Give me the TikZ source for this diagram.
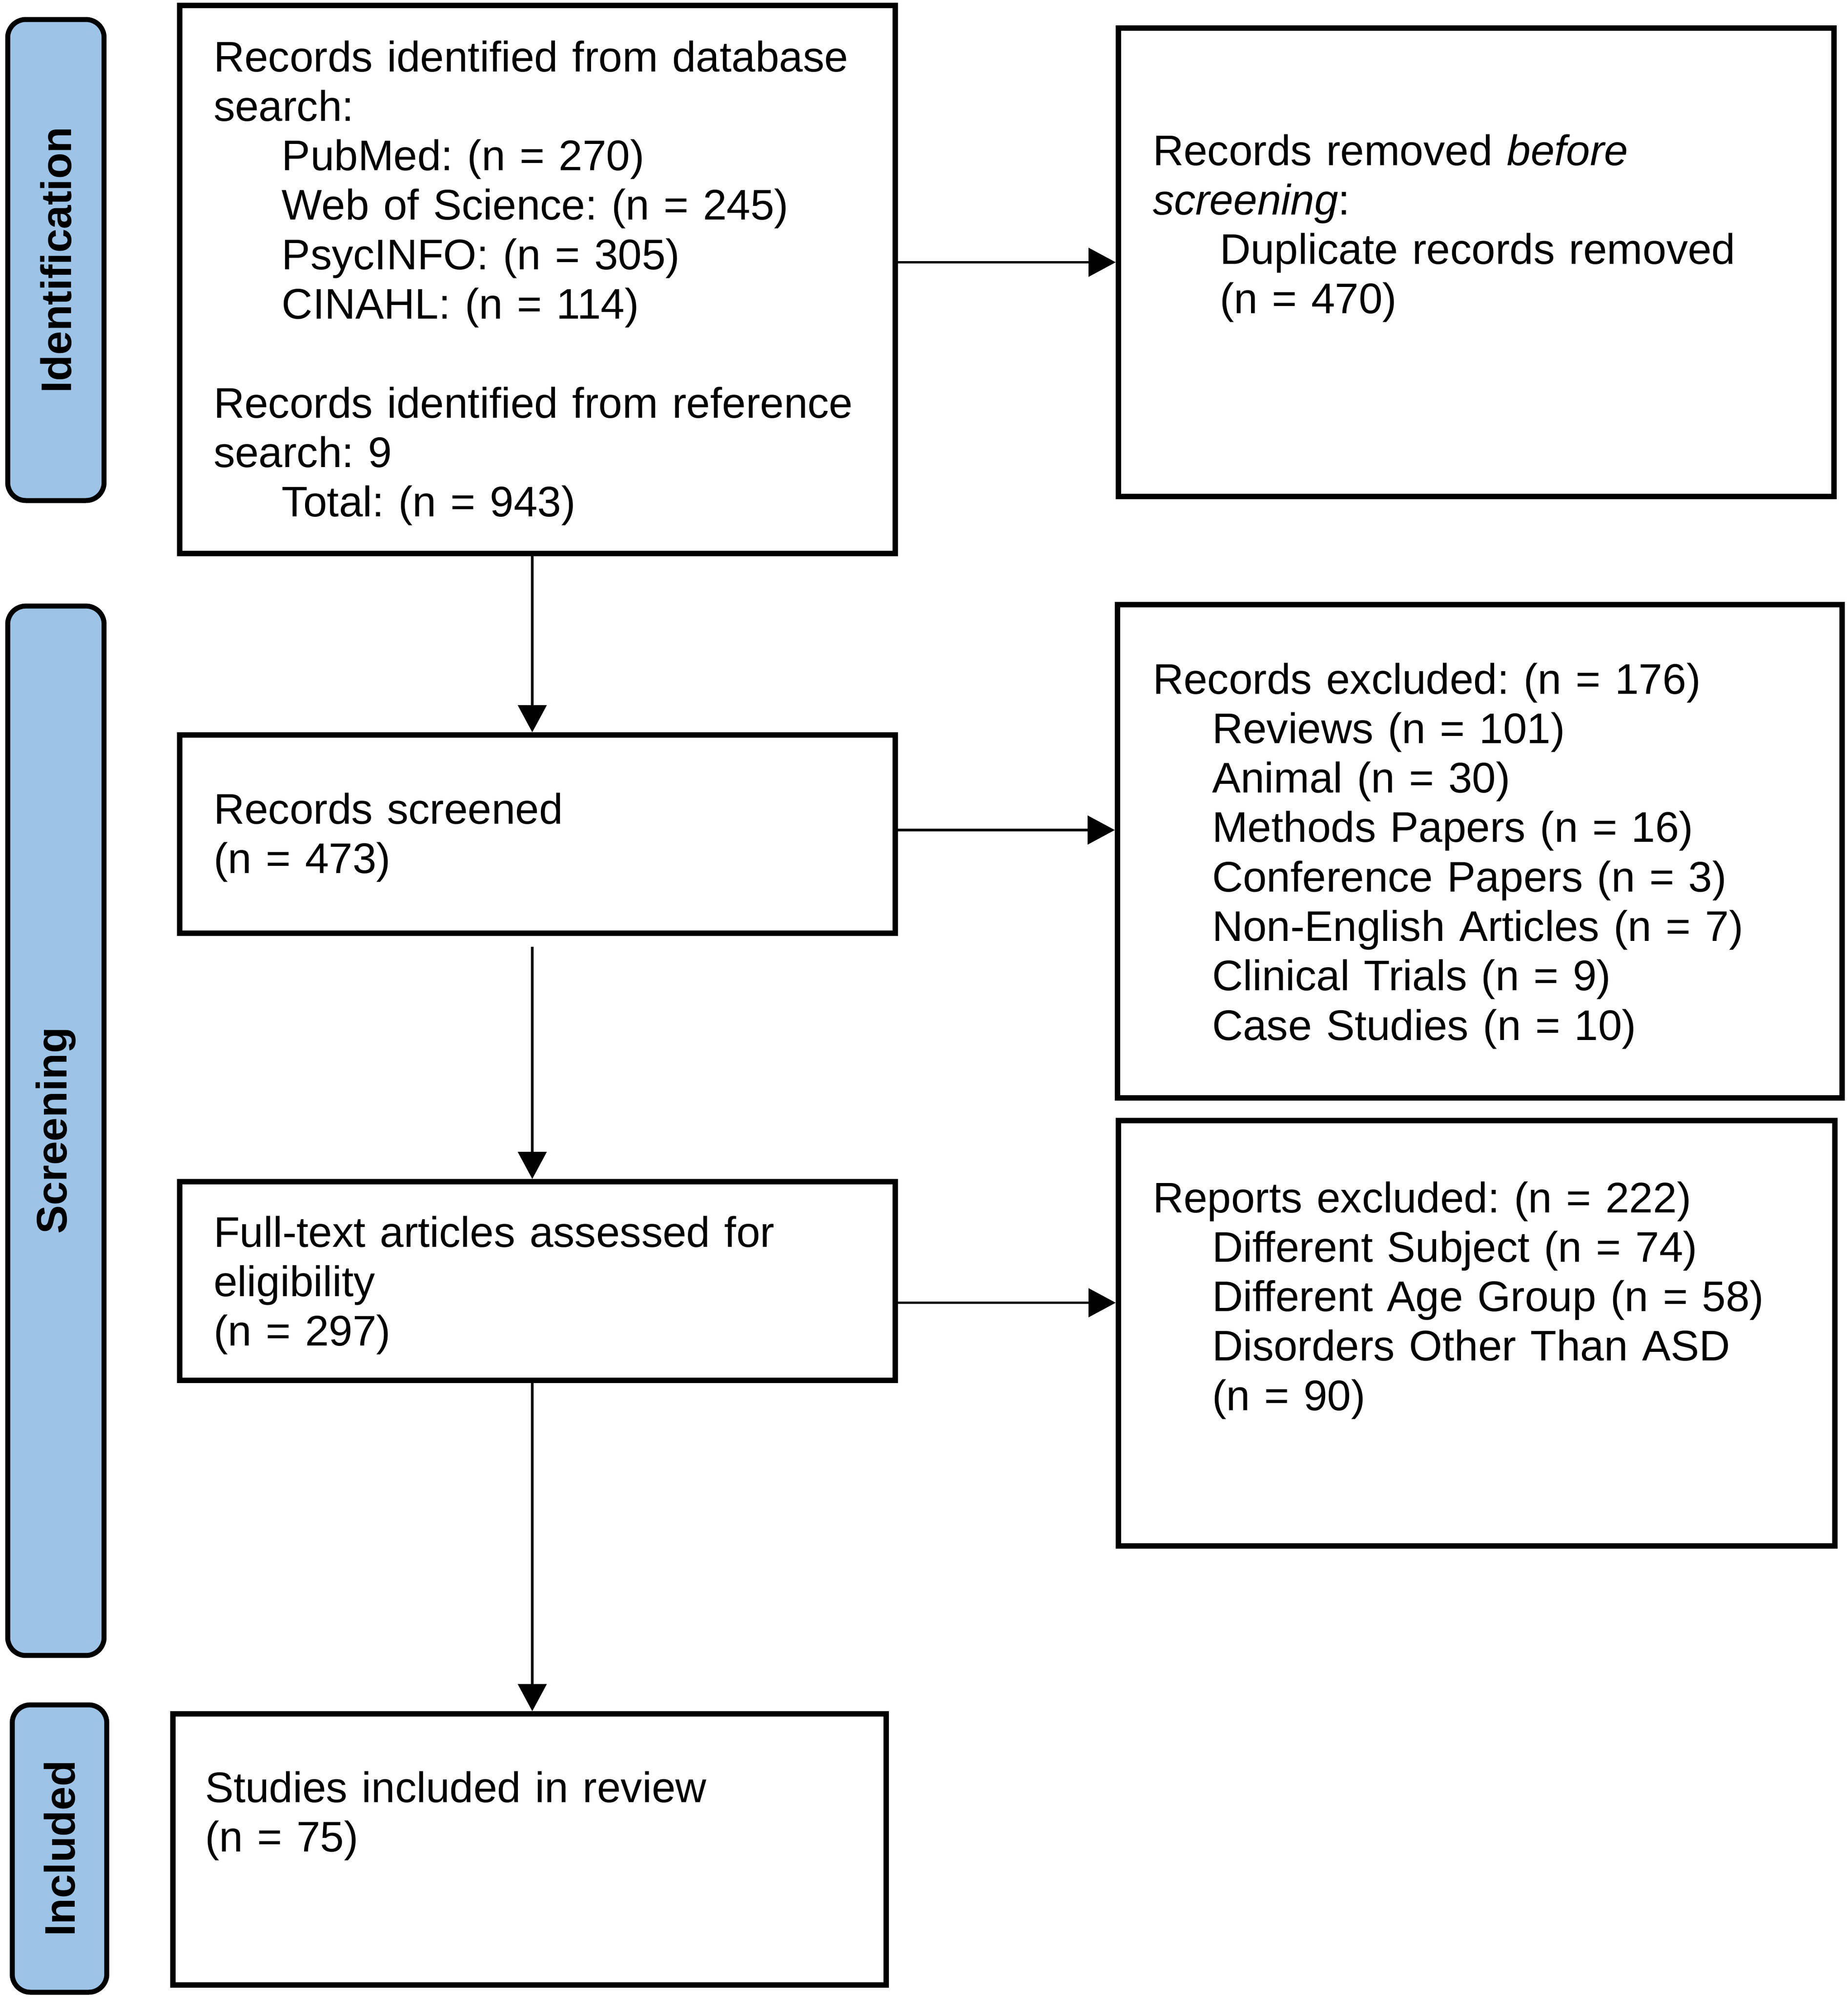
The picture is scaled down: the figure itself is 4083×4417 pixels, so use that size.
\documentclass[tikz,border=0pt]{standalone}
\usepackage{fontspec}
\setmainfont{Liberation Sans}
\usetikzlibrary{arrows.meta,calc}
\definecolor{phase}{RGB}{157,195,230}
\begin{document}
\frenchspacing
\begin{tikzpicture}[x=0.1pt,y=-0.1pt,
  box/.style={draw=black, line width=1.2pt, fill=white, inner sep=0pt, rectangle},
  phasebox/.style={draw=black, line width=1.1pt, fill=phase, rounded corners=4pt, inner sep=0pt, rectangle},
  phasetext/.style={font=\fontsize{9.45}{11}\selectfont\bfseries, rotate=90, inner sep=0pt},
  txt/.style={font=\fontsize{9.45}{10.93}\selectfont\frenchspacing, align=left, anchor=base west, inner sep=0pt, text width=152pt},
  arr/.style={-{Triangle[length=6pt,width=6.3pt]}, line width=0.55pt}]
\useasboundingbox (0,0) rectangle (4083,4417);
\fill[white] (0,0) rectangle (4083,4417);

% phase labels
\node[phasebox, minimum width=21.3pt, minimum height=106.3pt] (p1) at (123.5,574.5) {};
\node[phasetext] (p1t) at (p1.center) {Identification};
\node[phasebox, minimum width=21.3pt, minimum height=231.9pt] (p2) at (123.5,2498.5) {};
\node[phasetext] (p2t) at (p2.center) {Screening};
\node[phasebox, minimum width=20.9pt, minimum height=63.5pt] (p3) at (131.5,4084.5) {};
\node[phasetext] (p3t) at (p3.center) {Included};

% boxes
\node[box, minimum width=158.1pt, minimum height=121.1pt] (b1) at (1187.5,617.5) {};
\node[box, minimum width=158.1pt, minimum height=103.5pt] (b2) at (3261.5,579.5) {};
\node[box, minimum width=158.1pt, minimum height=43.8pt] (b3) at (1187.5,1843) {};
\node[box, minimum width=158.1pt, minimum height=43.9pt] (b4) at (1187.5,2830.5) {};
\node[box, minimum width=157.6pt, minimum height=59.9pt] (b5) at (1170,4086.5) {};
\node[box, minimum width=160.1pt, minimum height=109pt] (b6) at (3269.5,1881) {};
\node[box, minimum width=158.3pt, minimum height=94pt] (b7) at (3262.5,2946) {};

% texts
\node[txt] (t1) at (470,158) {Records identified from database\\
search:\\
\hspace*{15.1pt}PubMed: (n = 270)\\
\hspace*{15.1pt}Web of Science: (n = 245)\\
\hspace*{15.1pt}PsycINFO: (n = 305)\\
\hspace*{15.1pt}CINAHL: (n = 114)\\[10.93pt]
Records identified from reference\\
search: 9\\
\hspace*{15.1pt}Total: (n = 943)};
\node[txt] (t2) at (2545,365) {Records removed \textit{before}\\
\textit{screening}:\\
\hspace*{14.8pt}Duplicate records removed\\
\hspace*{14.8pt}(n = 470)};
\node[txt] (t3) at (470,1820) {Records screened\\
(n = 473)};
\node[txt] (t4) at (470,2755) {Full-text articles assessed for\\
eligibility\\
(n = 297)};
\node[txt] (t5) at (451,3982) {Studies included in review\\
(n = 75)};
\node[txt] (t6) at (2545,1533) {Records excluded: (n = 176)\\
\hspace*{13.1pt}Reviews (n = 101)\\
\hspace*{13.1pt}Animal (n = 30)\\
\hspace*{13.1pt}Methods Papers (n = 16)\\
\hspace*{13.1pt}Conference Papers (n = 3)\\
\hspace*{13.1pt}Non-English Articles (n = 7)\\
\hspace*{13.1pt}Clinical Trials (n = 9)\\
\hspace*{13.1pt}Case Studies (n = 10)};
\node[txt] (t7) at (2545,2679) {Reports excluded: (n = 222)\\
\hspace*{13.1pt}Different Subject (n = 74)\\
\hspace*{13.1pt}Different Age Group (n = 58)\\
\hspace*{13.1pt}Disorders Other Than ASD\\
\hspace*{13.1pt}(n = 90)};

% connectors
\coordinate (spine) at (1176,0);
\draw[arr] (b1.east |- b2.west) -- (b2.west);
\draw[arr] (spine |- b1.south) -- (spine |- b3.north);
\draw[arr] ($(b3.east)+(0,-9)$) -- ($(b3.east -| b6.west)+(0,-9)$);
\draw[arr] ($(spine |- b3.south)+(0,24)$) -- (spine |- b4.north);
\draw[arr] ($(b4.east)+(0,48)$) -- ($(b4.east -| b7.west)+(0,48)$);
\draw[arr] (spine |- b4.south) -- (spine |- b5.north);
\end{tikzpicture}
\end{document}
